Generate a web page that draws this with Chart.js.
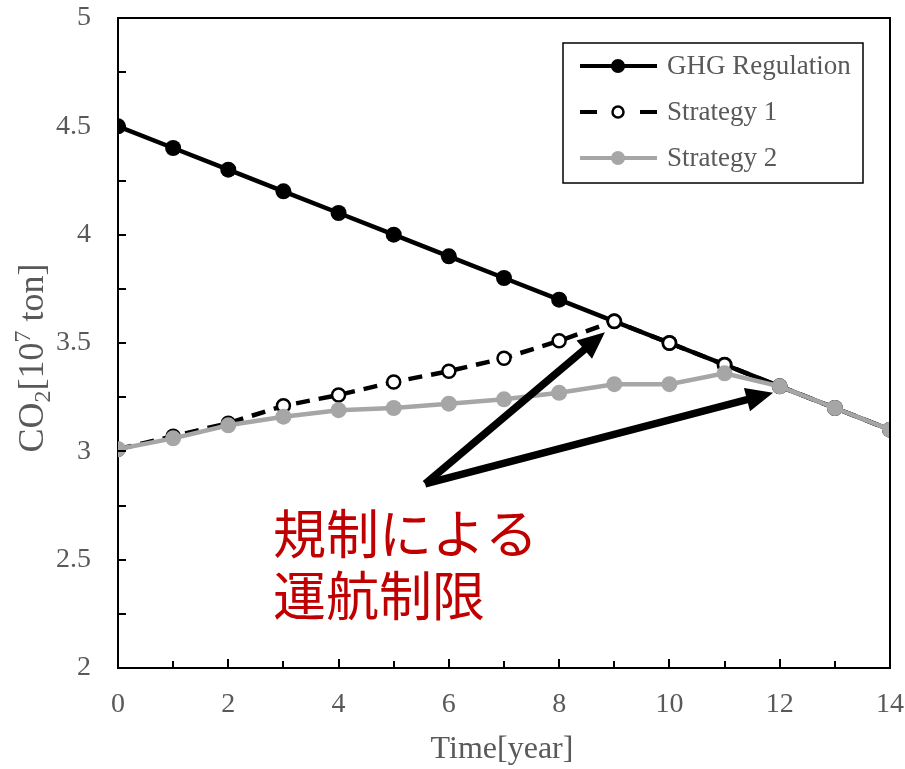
<!DOCTYPE html>
<html>
<head>
<meta charset="utf-8">
<script src="https://cdn.jsdelivr.net/npm/chart.js@4.4.1/dist/chart.umd.min.js"></script>
<style>
  html, body { margin: 0; padding: 0; background: #fff; }
  #wrap { width: 905px; height: 769px; }
</style>
</head>
<body>
<div id="wrap"><canvas id="co2Chart" width="905" height="769"></canvas></div>
<script>
// values
const years = [0, 1, 2, 3, 4, 5, 6, 7, 8, 9, 10, 11, 12, 13, 14];
const ghgRegulation = [4.5, 4.4, 4.3, 4.2, 4.1, 4.0, 3.9, 3.8, 3.7, 3.6, 3.5, 3.4, 3.3, 3.2, 3.1];
const strategy1 = [3.01, 3.07, 3.13, 3.21, 3.26, 3.32, 3.37, 3.43, 3.51, 3.6, 3.5, 3.4, 3.3, 3.2, 3.1];
const strategy2 = [3.01, 3.06, 3.12, 3.16, 3.19, 3.2, 3.22, 3.24, 3.27, 3.31, 3.31, 3.36, 3.3, 3.2, 3.1];
const seriesNames = ['GHG Regulation', 'Strategy 1', 'Strategy 2'];

// annotation: arrows from one tail to two heads (data coordinates)
const arrowTail = [5.57, 2.85];
const arrowHeads = [[8.83, 3.55], [11.88, 3.27]];
const noteLines = ['規制による', '運航制限'];

const serif = '"Liberation Serif", "Times New Roman", serif';
const grayText = '#595959';
const gray = '#a6a6a6';

function toPoints(vals) {
  return years.map((x, i) => ({ x: x, y: vals[i] }));
}

function drawArrow(ctx, x1, y1, x2, y2) {
  const ang = Math.atan2(y2 - y1, x2 - x1);
  const headLen = 27, headHalf = 12;
  const bx = x2 - headLen * Math.cos(ang), by = y2 - headLen * Math.sin(ang);
  ctx.save();
  ctx.strokeStyle = '#000';
  ctx.fillStyle = '#000';
  ctx.lineWidth = 7.5;
  ctx.lineCap = 'butt';
  ctx.beginPath();
  ctx.moveTo(x1, y1);
  ctx.lineTo(bx + 2 * Math.cos(ang), by + 2 * Math.sin(ang));
  ctx.stroke();
  ctx.beginPath();
  ctx.moveTo(x2, y2);
  ctx.lineTo(bx + headHalf * Math.sin(ang), by - headHalf * Math.cos(ang));
  ctx.lineTo(bx - headHalf * Math.sin(ang), by + headHalf * Math.cos(ang));
  ctx.closePath();
  ctx.fill();
  ctx.restore();
}

const extras = {
  id: 'extras',
  afterDatasetsDraw(chart) {
    const ctx = chart.ctx;
    const xs = chart.scales.x, ys = chart.scales.y;
    // arrows over the lines
    const tx = xs.getPixelForValue(arrowTail[0]), ty = ys.getPixelForValue(arrowTail[1]);
    arrowHeads.forEach(h => drawArrow(ctx, tx, ty, xs.getPixelForValue(h[0]), ys.getPixelForValue(h[1])));
  },
  afterDraw(chart) {
    const ctx = chart.ctx;
    const xs = chart.scales.x, ys = chart.scales.y;
    const a = chart.chartArea;
    ctx.save();

    // top and right frame
    ctx.strokeStyle = '#000';
    ctx.lineWidth = 2;
    ctx.beginPath();
    ctx.moveTo(a.left - 1, a.top);
    ctx.lineTo(a.right, a.top);
    ctx.lineTo(a.right, a.bottom + 1);
    ctx.stroke();

    // inward tick marks
    ctx.lineWidth = 2;
    ctx.beginPath();
    for (let v = 2.25; v < 5; v += 0.25) {
      const py = Math.round(ys.getPixelForValue(v));
      ctx.moveTo(a.left, py);
      ctx.lineTo(a.left + 8, py);
    }
    for (let v = 1; v < 14; v++) {
      const px = Math.round(xs.getPixelForValue(v));
      ctx.moveTo(px, a.bottom);
      ctx.lineTo(px, a.bottom - (v % 2 === 0 ? 9 : 7));
    }
    ctx.stroke();

    // x axis title
    ctx.fillStyle = grayText;
    ctx.font = '32px ' + serif;
    ctx.textAlign = 'center';
    ctx.textBaseline = 'alphabetic';
    ctx.fillText('Time[year]', 502, 758);

    // y axis title with subscript and superscript
    const big = 36, small = 24;
    const parts = [
      { t: 'CO', s: big, dy: 0 },
      { t: '2', s: small, dy: 7 },
      { t: '[10', s: big, dy: 0 },
      { t: '7', s: small, dy: -13 },
      { t: ' ton]', s: big, dy: 0 }
    ];
    let total = 0;
    parts.forEach(p => { ctx.font = p.s + 'px ' + serif; p.w = ctx.measureText(p.t).width; total += p.w; });
    ctx.save();
    ctx.translate(43, 358);
    ctx.rotate(-Math.PI / 2);
    ctx.textAlign = 'left';
    let cx = -total / 2;
    parts.forEach(p => {
      ctx.font = p.s + 'px ' + serif;
      ctx.fillText(p.t, cx, p.dy);
      cx += p.w;
    });
    ctx.restore();

    // legend
    const box = { l: 563, t: 43, r: 863, b: 183 };
    ctx.strokeStyle = '#000';
    ctx.lineWidth = 1.5;
    ctx.strokeRect(box.l, box.t, box.r - box.l, box.b - box.t);
    const rows = [66, 112, 158];
    const legendRadius = [7, 5.5, 7];
    const styles = chart.data.datasets;
    rows.forEach((ry, i) => {
      const ds = styles[i];
      ctx.strokeStyle = ds.borderColor;
      ctx.lineWidth = 4;
      ctx.beginPath();
      if (i === 1) {
        ctx.moveTo(580, ry); ctx.lineTo(597, ry);
        ctx.moveTo(640, ry); ctx.lineTo(657, ry);
      } else {
        ctx.moveTo(580, ry); ctx.lineTo(657, ry);
      }
      ctx.stroke();
      ctx.beginPath();
      ctx.arc(618, ry, legendRadius[i], 0, Math.PI * 2);
      ctx.fillStyle = ds.pointBackgroundColor;
      ctx.fill();
      if (ds.pointBorderWidth > 0) {
        ctx.lineWidth = ds.pointBorderWidth;
        ctx.strokeStyle = ds.pointBorderColor;
        ctx.stroke();
      }
      ctx.fillStyle = grayText;
      ctx.font = '27px ' + serif;
      ctx.textAlign = 'left';
      ctx.textBaseline = 'middle';
      ctx.fillText(seriesNames[i], 667, ry + 1);
    });

    // red note
    ctx.fillStyle = '#c00000';
    ctx.font = '53px "Noto Sans CJK JP", sans-serif';
    ctx.textAlign = 'left';
    ctx.textBaseline = 'middle';
    ctx.fillText(noteLines[0], 273, 534);
    ctx.fillText(noteLines[1], 273, 596);

    ctx.restore();
  }
};

new Chart(document.getElementById('co2Chart').getContext('2d'), {
  type: 'line',
  data: {
    datasets: [{
      label: seriesNames[0],
      data: toPoints(ghgRegulation),
      borderColor: '#000',
      borderWidth: 4.5,
      pointRadius: 8,
      pointBackgroundColor: '#000',
      pointBorderColor: '#000',
      pointBorderWidth: 0,
      tension: 0,
      order: 3
    }, {
      label: seriesNames[1],
      data: toPoints(strategy1),
      borderColor: '#000',
      borderWidth: 4.5,
      borderDash: [14, 9],
      pointRadius: 6.5,
      pointBackgroundColor: '#fff',
      pointBorderColor: '#000',
      pointBorderWidth: 2.5,
      tension: 0,
      order: 2
    }, {
      label: seriesNames[2],
      data: toPoints(strategy2),
      borderColor: gray,
      borderWidth: 4.5,
      pointRadius: 8,
      pointBackgroundColor: gray,
      pointBorderColor: gray,
      pointBorderWidth: 0,
      tension: 0,
      order: 1
    }]
  },
  options: {
    responsive: false,
    animation: false,
    layout: { padding: { top: 18, right: 15, left: 0, bottom: 0 } },
    plugins: { legend: { display: false }, tooltip: { enabled: false } },
    scales: {
      x: {
        type: 'linear',
        min: 0,
        max: 14,
        afterFit: s => { s.height = 101; s.paddingLeft = 0; s.paddingRight = 0; },
        grid: { display: false, drawTicks: false },
        border: { color: '#000', width: 2 },
        ticks: { stepSize: 2, padding: 20, color: grayText, font: { family: serif, size: 28 } }
      },
      y: {
        min: 2,
        max: 5,
        afterFit: s => { s.width = 118; s.paddingTop = 0; s.paddingBottom = 0; },
        grid: { display: false, drawTicks: false },
        border: { color: '#000', width: 2 },
        ticks: {
          stepSize: 0.5, padding: 27, color: grayText, font: { family: serif, size: 28 },
          callback: v => String(v)
        }
      }
    }
  },
  plugins: [extras]
});
</script>
</body>
</html>
